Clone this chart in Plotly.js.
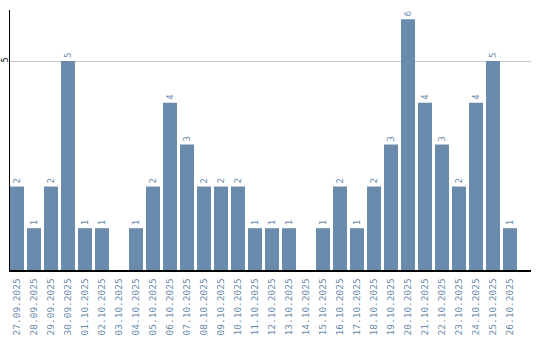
<!DOCTYPE html>
<html><head><meta charset="utf-8">
<script src="https://cdn.plot.ly/plotly-3.0.1.min.js"></script>
<style>html,body{margin:0;padding:0;background:#fff}#c{width:540px;height:340px}</style>
</head><body><div id="c"></div>
<script>
const dates = ["27.09.2025","28.09.2025","29.09.2025","30.09.2025","01.10.2025","02.10.2025","03.10.2025","04.10.2025","05.10.2025","06.10.2025","07.10.2025","08.10.2025","09.10.2025","10.10.2025","11.10.2025","12.10.2025","13.10.2025","14.10.2025","15.10.2025","16.10.2025","17.10.2025","18.10.2025","19.10.2025","20.10.2025","21.10.2025","22.10.2025","23.10.2025","24.10.2025","25.10.2025","26.10.2025"];
const counts = [2,1,2,5,1,1,0,1,2,4,3,2,2,2,1,1,1,0,1,2,1,2,3,6,4,3,2,4,5,1];
const yTicks = [5];

const barColor = '#6a8bab';
const labels = counts.map(v => v > 0 ? String(v) : '');

Plotly.newPlot('c', [{
  type: 'bar',
  x: dates,
  y: counts,
  marker: {color: barColor},
  text: labels,
  textposition: 'outside',
  textangle: -90,
  cliponaxis: false,
  textfont: {family: 'DejaVu Sans Mono', size: 9, color: barColor},
  hoverinfo: 'none'
}], {
  width: 540, height: 340,
  margin: {l: 10, r: 9, t: 10, b: 70, pad: 0},
  paper_bgcolor: '#fff', plot_bgcolor: '#fff',
  bargap: 0.176,
  showlegend: false,
  xaxis: {
    type: 'category',
    range: [-0.4118, 30.235],
    tickangle: -90,
    tickfont: {family: 'DejaVu Sans Mono', size: 9.5, color: barColor},
    ticklabelstandoff: 3,
    showline: true, linecolor: '#000', linewidth: 1.5,
    ticks: '', showgrid: false, zeroline: false,
    automargin: false
  },
  yaxis: {
    range: [0, 6.22],
    tickvals: yTicks,
    ticktext: yTicks.map(String),
    tickangle: -90,
    ticklabelstandoff: -3,
    tickfont: {family: 'DejaVu Sans Mono', size: 8, color: '#000'},
    showline: true, linecolor: '#000', linewidth: 1.5,
    showgrid: true, gridcolor: '#c8c8c8', gridwidth: 1,
    zeroline: false, ticks: '', ticklen: 0,
    automargin: false
  }
}, {staticPlot: true, displayModeBar: false});
</script></body></html>
